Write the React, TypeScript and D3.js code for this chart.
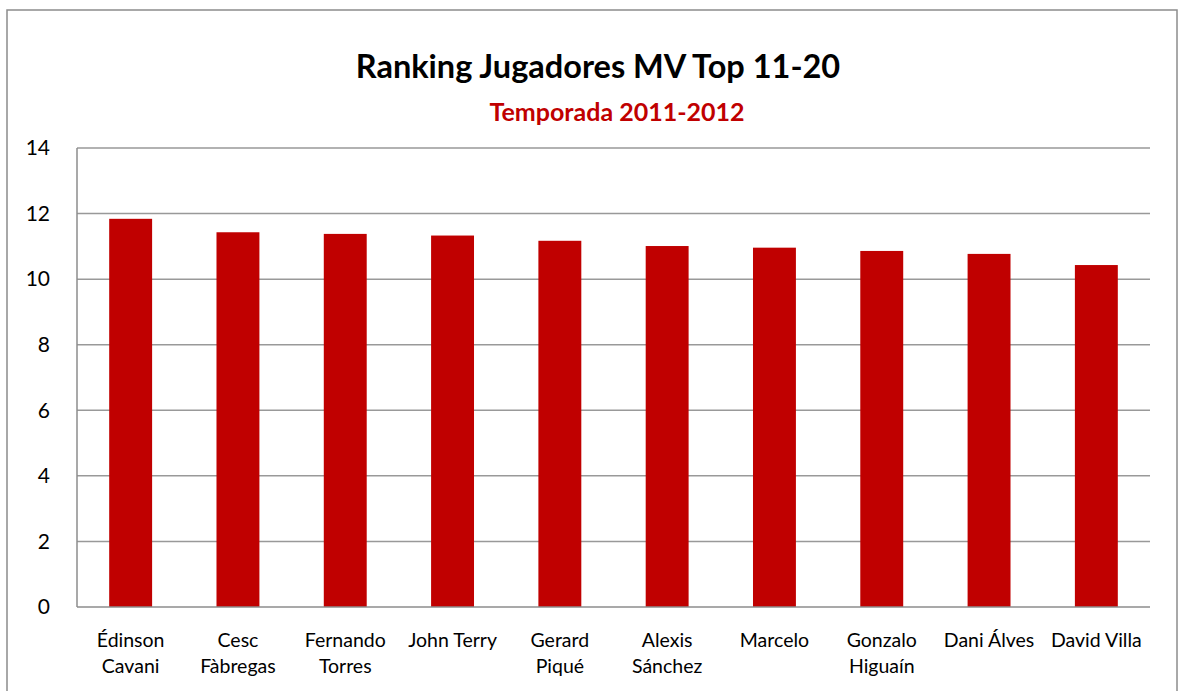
import React, { useEffect, useRef } from 'react'
import * as d3 from 'd3'

// players, top 11-20
const players = [
  'Édinson Cavani',
  'Cesc Fàbregas',
  'Fernando Torres',
  'John Terry',
  'Gerard Piqué',
  'Alexis Sánchez',
  'Marcelo',
  'Gonzalo Higuaín',
  'Dani Álves',
  'David Villa'
]

// label lines as shown under each bar
const labelLines = [
  ['Édinson', 'Cavani'],
  ['Cesc', 'Fàbregas'],
  ['Fernando', 'Torres'],
  ['John Terry'],
  ['Gerard', 'Piqué'],
  ['Alexis', 'Sánchez'],
  ['Marcelo'],
  ['Gonzalo', 'Higuaín'],
  ['Dani Álves'],
  ['David Villa']
]

const values = [11.84, 11.43, 11.38, 11.33, 11.17, 11.01, 10.96, 10.86, 10.77, 10.43]

const yTicks = [0, 2, 4, 6, 8, 10, 12, 14]

const title = 'Ranking Jugadores MV Top 11-20'
const subtitle = 'Temporada 2011-2012'

const FONT = 'Lato, "Noto Sans", sans-serif'

function App () {
  const ref = useRef<SVGSVGElement | null>(null)

  useEffect(() => {
    const width = 1178
    const height = 691
    const margin = { top: 148, right: 28, bottom: 84, left: 77 }

    const svg = d3.select(ref.current)
    svg.selectAll('*').remove()

    // outer chart border
    svg.append('rect')
      .attr('x', 7)
      .attr('y', 10)
      .attr('width', 1170)
      .attr('height', 700)
      .attr('fill', '#fff')
      .attr('stroke', '#8c8c8c')
      .attr('stroke-width', 1.5)

    const x = d3.scaleBand()
      .domain(players)
      .range([margin.left, width - margin.right])
      .paddingInner(0.6)
      .paddingOuter(0.3)

    const y = d3.scaleLinear()
      .domain([0, 14])
      .range([height - margin.bottom, margin.top])

    // gridlines
    svg.append('g')
      .selectAll('line')
      .data(yTicks.filter(d => d > 0))
      .enter()
      .append('line')
      .attr('x1', margin.left)
      .attr('x2', width - margin.right)
      .attr('y1', d => y(d))
      .attr('y2', d => y(d))
      .attr('stroke', '#999')
      .attr('stroke-width', 1.5)

    // bars
    svg.append('g')
      .selectAll('rect')
      .data(values)
      .enter()
      .append('rect')
      .attr('x', (d, i) => x(players[i]) as number)
      .attr('y', d => y(d))
      .attr('width', x.bandwidth())
      .attr('height', d => y(0) - y(d))
      .attr('fill', '#c00000')

    // axes lines
    svg.append('line')
      .attr('x1', margin.left)
      .attr('x2', margin.left)
      .attr('y1', y(14))
      .attr('y2', y(0))
      .attr('stroke', '#8c8c8c')
      .attr('stroke-width', 1.5)

    svg.append('line')
      .attr('x1', margin.left)
      .attr('x2', width - margin.right)
      .attr('y1', y(0))
      .attr('y2', y(0))
      .attr('stroke', '#8c8c8c')
      .attr('stroke-width', 1.5)

    // y tick labels
    svg.append('g')
      .selectAll('text')
      .data(yTicks)
      .enter()
      .append('text')
      .attr('x', 50)
      .attr('y', d => y(d))
      .attr('dy', '0.35em')
      .attr('text-anchor', 'end')
      .attr('font-family', FONT)
      .attr('font-size', 21)
      .attr('fill', '#000')
      .text(d => d)

    // x labels
    const lbl = svg.append('g')
      .selectAll('text')
      .data(players)
      .enter()
      .append('text')
      .attr('x', d => (x(d) as number) + x.bandwidth() / 2)
      .attr('y', 647)
      .attr('text-anchor', 'middle')
      .attr('font-family', FONT)
      .attr('font-size', 19.5)
      .attr('fill', '#000')

    lbl.selectAll('tspan')
      .data((d, i) => labelLines[i].map(t => ({ t, cx: (x(d) as number) + x.bandwidth() / 2 })))
      .enter()
      .append('tspan')
      .attr('x', d => d.cx)
      .attr('dy', (d, j) => j === 0 ? 0 : 26)
      .text(d => d.t)

    // titles
    svg.append('text')
      .attr('x', 598)
      .attr('y', 78)
      .attr('text-anchor', 'middle')
      .attr('font-family', FONT)
      .attr('font-weight', 'bold')
      .attr('font-size', 32.5)
      .attr('fill', '#000')
      .text(title)

    svg.append('text')
      .attr('x', 617)
      .attr('y', 121)
      .attr('text-anchor', 'middle')
      .attr('font-family', FONT)
      .attr('font-weight', 'bold')
      .attr('font-size', 25)
      .attr('fill', '#c00000')
      .text(subtitle)
  }, [])

  return (
    <svg
      ref={ref}
      width={1178}
      height={691}
      style={{ position: 'absolute', left: 0, top: 0, background: '#fff' }}
    />
  )
}

export default App
